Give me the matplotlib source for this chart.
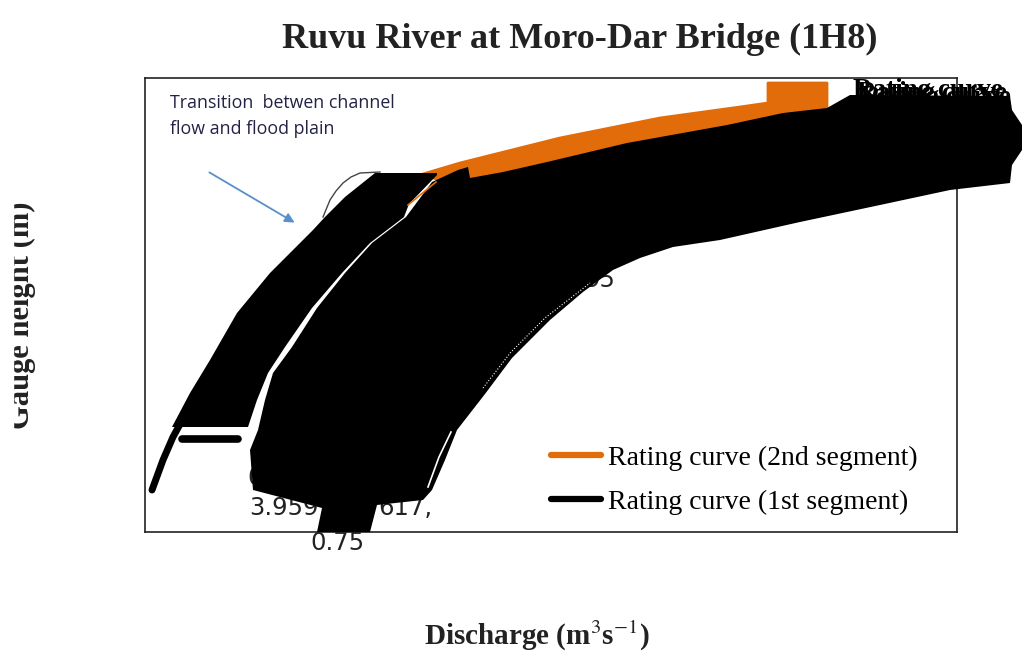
import matplotlib
matplotlib.use('Agg')
import matplotlib.pyplot as plt
from matplotlib.patches import Rectangle

# Valores (vazao em m3/s, cota em m). O eixo original nao tem escala visivel.
low_q = [7, 18, 28, 34, 39]
low_h = [0.42, 0.72, 0.95, 1.06, 1.15]

dash_q = [37, 93]
dash_h = [0.93, 0.93]

band_q = [27, 45, 65, 92, 125, 168, 180, 200, 230, 292,
          292, 264, 259, 225, 197, 167, 140, 123, 112, 103]
band_h = [1.05, 1.39, 1.72, 2.19, 2.59, 3.02, 3.15, 3.35, 3.59, 3.59,
          3.57, 3.28, 3.15, 2.89, 2.59, 2.24, 1.85, 1.59, 1.32, 1.05]

# massa de rotulos sobrepostos do 1o segmento
mass_q = [108, 105, 113, 120, 128, 147, 172, 200, 227, 261, 287, 313, 323, 325,
          358, 402, 482, 582, 638, 682, 705, 865,
          867, 877, 877, 867, 865, 805, 735, 655, 575, 528, 495, 468, 438, 405, 385, 367, 340, 312, 300, 287,
          278, 232, 225, 172, 177]
mass_h = [0.42, 0.82, 1.02, 1.32, 1.59, 1.85, 2.24, 2.59, 2.89, 3.15, 3.50, 3.62, 3.65, 3.54,
          3.60, 3.70, 3.89, 4.07, 4.19, 4.24, 4.37, 4.36,
          4.22, 4.07, 3.82, 3.67, 3.49, 3.42, 3.27, 3.10, 2.92, 2.85, 2.74, 2.62, 2.40, 2.12, 1.92, 1.74, 1.38, 1.02, 0.72, 0.42,
          0.32, 0.27, 0.00, 0.00, 0.24]

second_q = [278, 315, 415, 515, 595, 623, 623, 682, 682, 515, 325]
second_h = [3.58, 3.69, 3.94, 4.14, 4.25, 4.29, 4.49, 4.49, 4.24, 3.80, 3.40]
second_gap_q = [263, 291]
second_gap_h = [3.27, 3.50]

gap_q = [283, 294, 306]
gap_h = [0.45, 0.75, 1.00]
gap_dotted_q = [338, 366, 400, 445]
gap_dotted_h = [1.44, 1.80, 2.14, 2.49]

arc_q = [178, 185, 191, 198, 206, 215, 235]
arc_h = [3.15, 3.32, 3.41, 3.49, 3.55, 3.59, 3.60]

arrow_start = (62, 3.61)
arrow_end = (152, 3.08)

# rotulos de dados que aparecem por fora da massa
point_labels = ['3.959', '617,', '0.75', '0', '95']
point_q = [104, 233, 165, 102, 440]
point_h = [0.24, 0.24, -0.11, 0.54, 2.52]

curve_q = [708, 712, 716]
curve_h = [4.42, 4.39, 4.35]

SERIF = 'Liberation Serif'
ORANGE = '#E36C0A'

fig = plt.figure(figsize=(10.24, 6.68), dpi=100)
ax = fig.add_axes([145 / 1024, 136 / 668, 812 / 1024, 454 / 668])
ax.set_xlim(0, 812)
ax.set_ylim(0, 4.54)
ax.set_xticks([])
ax.set_yticks([])
for s in ax.spines.values():
    s.set_linewidth(1.2)
    s.set_color('#222222')

ax.fill(second_q, second_h, color=ORANGE, lw=2, joinstyle='round', zorder=2)
ax.fill(mass_q, mass_h, color='black', lw=0, zorder=3, clip_on=False)
ax.fill(band_q, band_h, color='black', lw=0, zorder=3)
ax.plot(low_q, low_h, color='black', lw=5, solid_capstyle='round', zorder=3)
line1, = ax.plot(dash_q, dash_h, color='black', lw=5.5, solid_capstyle='round', zorder=3,
                 label='Rating curve (1st segment)')
line2, = ax.plot(second_gap_q, second_gap_h, color=ORANGE, lw=1.2, zorder=4,
                 label='Rating curve (2nd segment)')
ax.plot(gap_q, gap_h, color='white', lw=1.2, zorder=4)
ax.plot(gap_dotted_q, gap_dotted_h, color='white', lw=0.8, ls=':', zorder=4)
ax.plot(arc_q, arc_h, color='#444444', lw=1, zorder=2)

for lab, q, h in zip(point_labels, point_q, point_h):
    ax.text(q, h, lab, fontsize=17.5, color='#222222', va='center', ha='left',
            clip_on=False, zorder=2)

for q, h in zip(curve_q, curve_h):
    ax.text(q, h, 'Rating curve', family=SERIF, fontsize=19.5, color='black', weight='bold',
            va='center', ha='left', clip_on=False, zorder=3)

ax.text(25, 4.16, 'Transition  betwen channel\nflow and flood plain', family='Open Sans',
        fontsize=12.8, color='#222244', va='center', ha='left', linespacing=1.55)
ax.annotate('', xy=arrow_end, xytext=arrow_start,
            arrowprops=dict(arrowstyle='-|>', color='#5B8FC9', lw=1.3, mutation_scale=14))

leg = ax.legend(handles=[line2, line1], loc='lower left', bbox_to_anchor=(0.5, 0.0375),
                frameon=False, borderpad=0, borderaxespad=0, handlelength=1.8, handletextpad=0.25,
                labelspacing=0.66, prop={'family': SERIF, 'size': 20})
for h in leg.legend_handles:
    h.set_linewidth(4.5)
    h.set_solid_capstyle('round')

fig.text(580 / 1024, 1 - 39 / 668, 'Ruvu River at Moro-Dar Bridge (1H8)', family=SERIF,
         fontsize=26, weight='bold', ha='center', va='center', color='#222222')
fig.text(537 / 1024, 1 - 636 / 668, 'Discharge (m$^{3}$s$^{\\mathrm{-}1}$)', family=SERIF,
         fontsize=21, weight='bold', ha='center', va='center', color='#222222',
         math_fontfamily='stix')
fig.text(21 / 1024, 1 - 315 / 668, 'Gauge height (m)', family=SERIF,
         fontsize=22, weight='bold', ha='center', va='center', rotation=90, color='#222222')
# o rotulo do eixo y esta cortado na borda esquerda no original
fig.add_artist(Rectangle((0, 0), 13 / 1024, 1, transform=fig.transFigure, color='white', zorder=10))

plt.savefig('out.png', dpi=100)
plt.close()
